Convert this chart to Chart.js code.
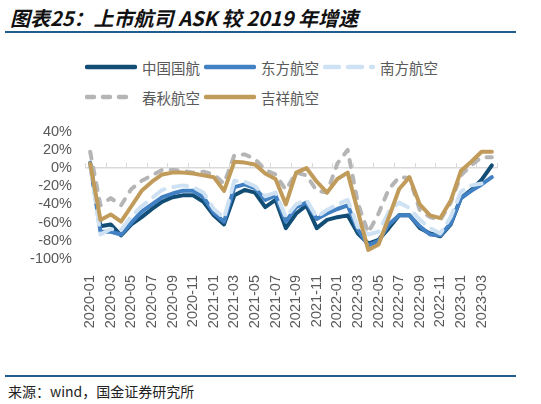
<!DOCTYPE html>
<html>
<head>
<meta charset="utf-8">
<script src="https://cdn.jsdelivr.net/npm/chart.js"></script>
<style>
  html, body { margin: 0; padding: 0; background: #fff; }
  #page { position: relative; width: 541px; height: 404px; overflow: hidden; font-family: "Noto Sans CJK SC", "Liberation Sans", sans-serif; }
  #title { position: absolute; left: 10px; top: 4px; line-height: 28px; font-size: 20px; font-weight: bold; font-style: italic; color: #111; white-space: nowrap; }
  .rule { position: absolute; left: 5px; width: 511px; height: 2px; background: #1f5d8c; }
  #legend { position: absolute; left: 85px; top: 52px; display: grid; grid-template-columns: repeat(3, 119px); grid-auto-rows: 30px; }
  .item { display: flex; align-items: center; font-size: 14.5px; color: #595959; white-space: nowrap; }
  .item svg { margin-right: 5px; flex: none; }
  #chart { position: absolute; left: 0; top: 110px; }
  #source { position: absolute; left: 8px; top: 381px; line-height: 20px; font-size: 14px; color: #222; white-space: nowrap; }
</style>
</head>
<body>
<div id="page">
  <div id="title">图表25：上市航司 ASK 较 2019 年增速</div>
  <div class="rule" style="top:31px"></div>
  <div id="legend"></div>
  <canvas id="chart" width="541" height="230"></canvas>
  <div class="rule" style="top:375px"></div>
  <div id="source">来源：wind，国金证券研究所</div>
</div>
<script>
const months = [
  '2020-01','2020-02','2020-03','2020-04','2020-05','2020-06','2020-07','2020-08','2020-09','2020-10','2020-11','2020-12',
  '2021-01','2021-02','2021-03','2021-04','2021-05','2021-06','2021-07','2021-08','2021-09','2021-10','2021-11','2021-12',
  '2022-01','2022-02','2022-03','2022-04','2022-05','2022-06','2022-07','2022-08','2022-09','2022-10','2022-11','2022-12',
  '2023-01','2023-02','2023-03','2023-04'
]

// ASK 较 2019 年同期增速（%）
const airChina = [5,-64,-62,-74,-62,-54,-45,-37,-32,-30,-30,-37,-52,-62,-30,-24,-27,-43,-35,-66,
  -50,-41,-66,-57,-54,-52,-72,-83,-79,-66,-52,-52,-66,-72,-75,-62,-33,-24,-13,3]
const chinaEastern = [6,-70,-70,-73,-60,-48,-40,-32,-28,-25,-25,-32,-49,-59,-21,-18,-22,-35,-30,-59,
  -43,-38,-56,-50,-45,-41,-68,-85,-80,-62,-52,-52,-64,-73,-74,-61,-33,-25,-18,-10]
const chinaSouthern = [3,-73,-67,-68,-53,-42,-33,-24,-21,-19,-21,-27,-45,-55,-14,-15,-20,-31,-27,-54,
  -40,-35,-54,-46,-40,-35,-65,-73,-70,-48,-38,-44,-57,-66,-72,-54,-26,-19,-17,null]
const springAir = [18,-41,-33,-41,-23,-14,-8,-2,-2,-3,-5,-4,-7,-17,14,15,10,-2,-7,-24,
  -5,-8,-25,-27,5,20,-39,-71,-50,-23,-10,-11,-46,-54,-57,-38,-8,3,12,12]
const juneyao = [5,-57,-51,-59,-42,-25,-15,-7,-5,-5,-6,-8,-10,-25,7,6,4,-6,-12,-40,
  -5,0,-15,-27,-12,-5,-48,-90,-84,-54,-23,-10,-40,-52,-55,-36,-3,7,18,18]

const series = [
  { label: '中国国航', data: airChina, color: '#114d74', dash: [], order: 5 },
  { label: '东方航空', data: chinaEastern, color: '#4281c3', dash: [], order: 4 },
  { label: '南方航空', data: chinaSouthern, color: '#cfe2f3', dash: [14, 9], order: 3 },
  { label: '春秋航空', data: springAir, color: '#b5b5b5', dash: [7, 9], order: 2 },
  { label: '吉祥航空', data: juneyao, color: '#c19b5a', dash: [], order: 1 }
]

// legend (Excel style: rows left aligned)
const legend = document.getElementById('legend')
series.forEach(s => {
  const item = document.createElement('div')
  item.className = 'item'
  item.innerHTML = `<svg width="52" height="10"><line x1="2" y1="5" x2="50" y2="5" stroke="${s.color}" stroke-width="4.5" stroke-linecap="round" stroke-dasharray="${s.dash.join(' ')}"/></svg><span>${s.label}</span>`
  legend.appendChild(item)
})

const zeroTicks = {
  id: 'zeroTicks',
  beforeDatasetsDraw(chart) {
    const { ctx, scales: { x, y } } = chart
    const y0 = y.getPixelForValue(0)
    const half = (x.getPixelForValue(1) - x.getPixelForValue(0)) / 2
    ctx.save()
    ctx.strokeStyle = '#d9d9d9'
    ctx.lineWidth = 1
    ctx.beginPath()
    for (let i = 0; i <= months.length; i += 2) {
      const px = Math.round(x.getPixelForValue(i) - half) + 0.5
      ctx.moveTo(px, y0)
      ctx.lineTo(px, y0 - 5)
    }
    ctx.stroke()
    ctx.restore()
  }
}

const chart = new Chart(document.getElementById('chart').getContext('2d'), {
  type: 'line',
  data: {
    labels: months,
    datasets: series.map(s => ({
      label: s.label,
      data: s.data,
      borderColor: s.color,
      backgroundColor: s.color,
      borderWidth: 4,
      borderDash: s.dash,
      borderCapStyle: 'round',
      borderJoinStyle: 'round',
      pointRadius: 0,
      tension: 0,
      order: s.order
    }))
  },
  options: {
    responsive: false,
    animation: false,
    layout: { padding: { top: 19, right: 44, left: 0, bottom: 0 } },
    plugins: { legend: { display: false }, tooltip: { enabled: false } },
    scales: {
      x: {
        offset: true,
        grid: { display: false },
        border: { display: false },
        ticks: {
          autoSkip: false,
          minRotation: 90,
          maxRotation: 90,
          padding: 8,
          color: '#595959',
          font: { family: 'Liberation Sans', size: 14.5 },
          callback: (v, i) => i % 2 === 0 ? months[i] : ''
        },
        afterFit: s => { s.height = 81 }
      },
      y: {
        min: -100,
        max: 40,
        border: { display: false },
        grid: {
          drawTicks: false,
          lineWidth: 1.5,
          color: c => c.tick && c.tick.value === 0 ? '#d9d9d9' : 'rgba(0,0,0,0)'
        },
        ticks: {
          stepSize: 20,
          autoSkip: false,
          padding: 13,
          color: '#595959',
          font: { family: 'Liberation Sans', size: 14.5 },
          callback: v => v + '%'
        },
        afterFit: s => { s.width = 85 }
      }
    }
  },
  plugins: [zeroTicks]
})
</script>
</body>
</html>
